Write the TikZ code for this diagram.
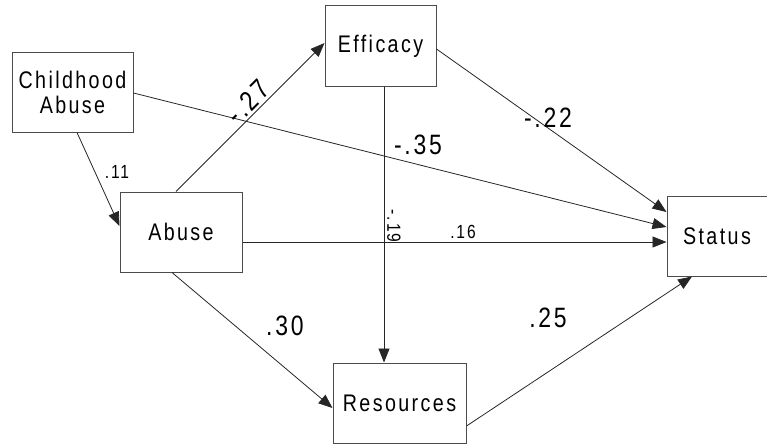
\documentclass[tikz,border=0pt]{standalone}
\usepackage{fontspec}
\setmainfont{Liberation Sans}[FakeStretch=0.82,LetterSpace=10]
\usetikzlibrary{arrows.meta,calc}
\begin{document}
\begin{tikzpicture}[x=1pt,y=-1pt,
  box/.style={draw=black!70,line width=1pt,fill=white,inner sep=0pt,align=center,font=\fontsize{24}{25}\selectfont},
  link/.style={draw=black!85,line width=0.8pt,-{Triangle[length=14pt,width=11pt]}},
  big/.style={inner sep=0pt,font=\fontsize{28}{30}\selectfont},
  small/.style={inner sep=0pt,font=\fontsize{19}{21}\selectfont}]
\useasboundingbox (0,0) rectangle (767,444);
\node[box,minimum width=121pt,minimum height=79pt] (ca) at (72.5,92.5) {Childhood\\Abuse};
\node[box,minimum width=122pt,minimum height=80pt] (ab) at (181,232) {Abuse};
\node[box,minimum width=111pt,minimum height=80pt] (ef) at (380.5,46) {Efficacy};
\node[box,minimum width=100pt,minimum height=80pt] (st) at (717,236) {Status};
\node[box,minimum width=133pt,minimum height=80pt] (re) at (399.5,403) {Resources};
\draw[link] ($(ca.south)+(4.5,0)$) -- ($(ab.west)+(0,-6)$);
\draw[link] ($(ab.north)+(-5,0)$) -- ($(ef.west)+(0,-3)$);
\draw[link] ($(ca.east)+(0,0.5)$) -- ($(st.west)+(0,-9)$);
\draw[link] ($(ab.east)+(0,10)$) -- ($(st.west)+(0,6)$);
\draw[link] ($(ef.east)+(0,3)$) -- ($(st.west)+(0,-24)$);
\draw[link] ($(ef.south)+(3.5,0)$) -- ($(re.north)+(-15.5,0)$);
\draw[link] ($(ab.south)+(-9,0)$) -- ($(re.west)+(0,5)$);
\draw[link] ($(re.east)+(0,23)$) -- ($(st.south)+(-25,0)$);
\node[small] (l11) at (117,172) {.11};
\node[big,rotate=45] (l27) at (248,102) {-.27};
\node[big] (l35) at (418,145) {-.35};
\node[big] (l22) at (548,118) {-.22};
\node[small] (l16) at (463,232) {.16};
\node[small,rotate=-90] (l19) at (394,226) {-.19};
\node[big] (l30) at (285,326) {.30};
\node[big] (l25) at (548,318) {.25};
\end{tikzpicture}
\end{document}
